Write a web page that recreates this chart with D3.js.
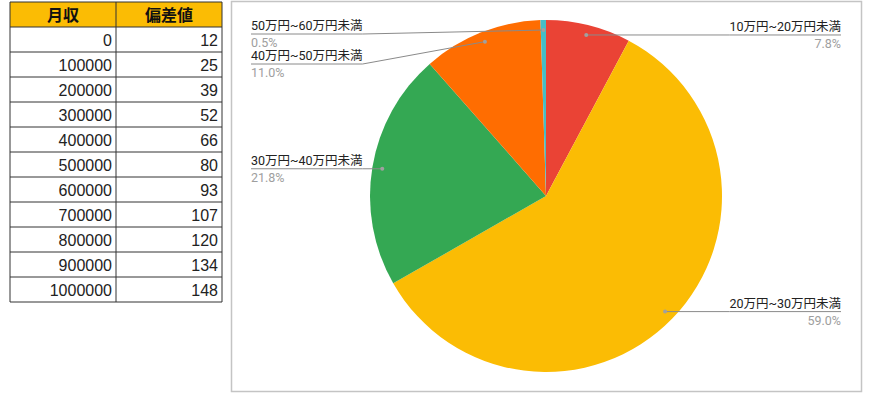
<!DOCTYPE html>
<html>
<head>
<meta charset="utf-8">
<script src="https://cdn.jsdelivr.net/npm/d3@7"></script>
<style>
  body { margin: 0; background: #fff; }
  svg { display: block; }
</style>
</head>
<body>
<svg id="chart" width="870" height="400"></svg>
<script>
// table data
const tableHeader = ["月収", "偏差値"];
const incomes = [0, 100000, 200000, 300000, 400000, 500000, 600000, 700000, 800000, 900000, 1000000];
const deviations = [12, 25, 39, 52, 66, 80, 93, 107, 120, 134, 148];

// pie data
const bands = ["10万円~20万円未満", "20万円~30万円未満", "30万円~40万円未満", "40万円~50万円未満", "50万円~60万円未満"];
const shares = [7.8, 59.0, 21.8, 11.0, 0.5];
const sliceColors = ["#ea4335", "#fbbc04", "#34a853", "#ff6d01", "#46bdc6"];

const svg = d3.select("#chart");
const font = "Arial, 'Liberation Sans', 'Noto Sans CJK JP', sans-serif";

// ---- table ----
const tableLeft = 10, colMid = 116, tableRight = 222;
const rowScale = d3.scaleBand().domain(d3.range(incomes.length + 1)).range([2, 302]);
const rowH = rowScale.bandwidth();

const table = svg.append("g").attr("class", "table");
table.append("rect")
  .attr("x", tableLeft).attr("y", rowScale(0))
  .attr("width", tableRight - tableLeft).attr("height", rowH)
  .attr("fill", "#fbbc04");

table.selectAll(".head")
  .data(tableHeader)
  .enter()
  .append("text")
  .attr("x", (d, i) => i === 0 ? (tableLeft + colMid) / 2 : (colMid + tableRight) / 2)
  .attr("y", rowScale(0) + rowH / 2 + 6)
  .attr("text-anchor", "middle")
  .attr("font-family", "'Noto Sans CJK JP', sans-serif")
  .attr("font-weight", "bold")
  .attr("font-size", "16px")
  .attr("fill", "#111")
  .text((d) => d);

const rows = table.selectAll(".row")
  .data(incomes.map((v, i) => ({ income: v, dev: deviations[i], idx: i + 1 })))
  .enter()
  .append("g")
  .attr("class", "row");
rows.append("text")
  .attr("x", colMid - 4)
  .attr("y", (d) => rowScale(d.idx) + rowH / 2 + 6)
  .attr("text-anchor", "end")
  .attr("font-family", font)
  .attr("font-size", "16px")
  .attr("fill", "#222")
  .text((d) => d.income);
rows.append("text")
  .attr("x", tableRight - 4)
  .attr("y", (d) => rowScale(d.idx) + rowH / 2 + 6)
  .attr("text-anchor", "end")
  .attr("font-family", font)
  .attr("font-size", "16px")
  .attr("fill", "#222")
  .text((d) => d.dev);

// grid lines
table.selectAll(".hline")
  .data(d3.range(incomes.length + 2))
  .enter()
  .append("line")
  .attr("x1", tableLeft).attr("x2", tableRight)
  .attr("y1", (d) => d === incomes.length + 1 ? 302 : rowScale(d))
  .attr("y2", (d) => d === incomes.length + 1 ? 302 : rowScale(d))
  .attr("stroke", "#333").attr("stroke-width", 1);
table.selectAll(".vline")
  .data([tableLeft, colMid, tableRight])
  .enter()
  .append("line")
  .attr("x1", (d) => d).attr("x2", (d) => d)
  .attr("y1", 2).attr("y2", 302)
  .attr("stroke", "#333").attr("stroke-width", 1);

// ---- chart box ----
svg.append("rect")
  .attr("x", 231.5).attr("y", 1.5)
  .attr("width", 630).attr("height", 390)
  .attr("fill", "#fff")
  .attr("stroke", "#c4c4c4")
  .attr("stroke-width", 1.5);

// ---- pie ----
const cx = 546, cy = 196, radius = 176;
const pie = d3.pie().sort(null).value((d) => d.value);
const arcs = pie(bands.map((b, i) => ({ band: b, value: shares[i], color: sliceColors[i] })));
const arc = d3.arc().innerRadius(0).outerRadius(radius);
const anchorArc = d3.arc().innerRadius(radius * 0.943).outerRadius(radius * 0.943);

const pieG = svg.append("g").attr("transform", `translate(${cx}, ${cy})`);
pieG.selectAll("path")
  .data(arcs)
  .enter()
  .append("path")
  .attr("d", arc)
  .attr("fill", (d) => d.data.color);

// ---- labels ----
const leftX = 251, rightX = 841, minLineY = 34, labelGap = 30;
const labels = arcs.map((d) => {
  const [ax, ay] = anchorArc.centroid(d);
  const mid = (d.startAngle + d.endAngle) / 2;
  return { d, ax: ax + cx, ay: ay + cy, left: mid > Math.PI };
});
["left", "right"].forEach((side) => {
  const group = labels.filter((l) => (side === "left") === l.left).sort((a, b) => a.ay - b.ay);
  let prev = -Infinity;
  group.forEach((l) => {
    l.lineY = Math.max(l.ay, minLineY, prev + labelGap);
    prev = l.lineY;
  });
});

const labelFont = "Roboto, 'Noto Sans CJK JP', sans-serif";
const labelG = svg.append("g").attr("class", "labels");
labels.forEach((l) => {
  const x = l.left ? leftX : rightX;
  const anchor = l.left ? "start" : "end";
  const name = labelG.append("text")
    .attr("x", x).attr("y", l.lineY - 4)
    .attr("text-anchor", anchor)
    .attr("font-family", labelFont)
    .attr("font-size", "12.5px")
    .attr("fill", "#222")
    .text(l.d.data.band);
  labelG.append("text")
    .attr("x", x).attr("y", l.lineY + 13)
    .attr("text-anchor", anchor)
    .attr("font-family", labelFont)
    .attr("font-size", "12.5px")
    .attr("fill", "#9e9e9e")
    .text(d3.format(".1f")(l.d.data.value) + "%");
  const w = name.node().getComputedTextLength();
  const endX = l.left ? x + w : x - w;
  labelG.append("path")
    .attr("d", `M${x},${l.lineY}H${endX}L${l.ax},${l.ay}`)
    .attr("fill", "none")
    .attr("stroke", "#8a8a8a")
    .attr("stroke-width", 1);
  labelG.append("circle")
    .attr("cx", l.ax).attr("cy", l.ay)
    .attr("r", 2)
    .attr("fill", "#a0a0a0");
});
</script>
</body>
</html>
